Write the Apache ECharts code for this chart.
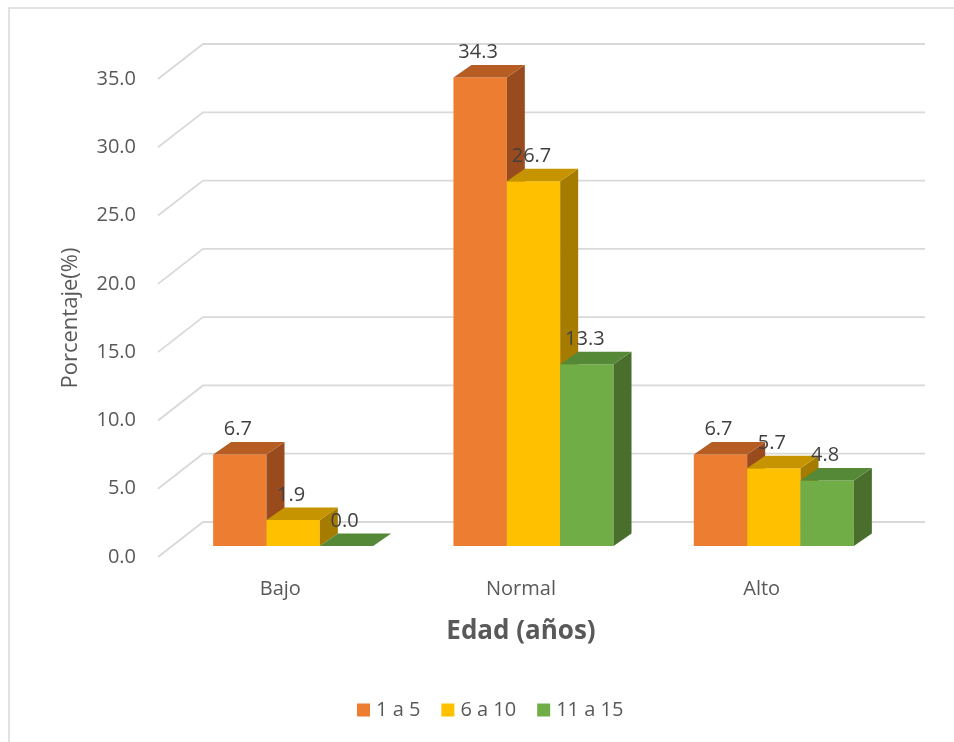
<!DOCTYPE html>
<html>
<head>
<meta charset="utf-8">
<title>Edad (años)</title>
<script src="https://cdn.jsdelivr.net/npm/echarts@6/dist/echarts.min.js"></script>
<style>
  html, body { margin: 0; padding: 0; background: #ffffff; }
  #chart { width: 954px; height: 742px; }
</style>
</head>
<body>
<div id="chart"></div>
<script>
// Categories and values (percent)
const categories = ['Bajo', 'Normal', 'Alto'];
const seriesNames = ['1 a 5', '6 a 10', '11 a 15'];
const values1a5 = [6.7, 34.3, 6.7];
const values6a10 = [1.9, 26.7, 5.7];
const values11a15 = [0.0, 13.3, 4.8];
const yTicks = [0, 5, 10, 15, 20, 25, 30, 35];

// Face colours for the 3D boxes: front, top, side
const palettes = [
  { front: '#ED7D31', top: '#B65D24', side: '#9A4B1D' },
  { front: '#FFC000', top: '#C69400', side: '#A67C00' },
  { front: '#70AD47', top: '#558937', side: '#4A6F2D' }
];

const FONT = '"Open Sans", "DejaVu Sans", sans-serif';
const DEPTH_X = 18, DEPTH_Y = -12.5;   // box depth offset
const WALL_X = 45, WALL_Y = -35;       // back wall offset from front floor edge
const BAR_RATIO = 0.222;               // bar width as share of a category band

const chart = echarts.init(document.getElementById('chart'), null, { renderer: 'canvas' });

function boxRenderer(seriesIdx) {
  const pal = palettes[seriesIdx];
  return function (params, api) {
    const cat = api.value(0);
    const v = api.value(1);
    const base = api.coord([cat, 0]);
    const topPt = api.coord([cat, v]);
    const band = api.size([1, 0])[0];
    const w = band * BAR_RATIO;
    const x0 = base[0] - 1.5 * w + seriesIdx * w;
    const x1 = x0 + w;
    const yb = base[1];
    const yt = topPt[1];
    const children = [];
    if (yb - yt > 0.5) {
      children.push({
        type: 'rect',
        shape: { x: x0, y: yt, width: w, height: yb - yt },
        style: { fill: pal.front }
      });
      children.push({
        type: 'polygon',
        shape: { points: [[x1, yt], [x1 + DEPTH_X, yt + DEPTH_Y], [x1 + DEPTH_X, yb + DEPTH_Y], [x1, yb]] },
        style: { fill: pal.side }
      });
    }
    children.push({
      type: 'polygon',
      shape: { points: [[x0, yt], [x0 + DEPTH_X, yt + DEPTH_Y], [x1 + DEPTH_X, yt + DEPTH_Y], [x1, yt]] },
      style: { fill: pal.top }
    });
    children.push({
      type: 'text',
      style: {
        x: x0 + w / 2 - 2,
        y: yt - 25,
        text: v.toFixed(1),
        align: 'center',
        verticalAlign: 'middle',
        fill: '#404040',
        font: '20px ' + FONT
      },
      z2: 10
    });
    return { type: 'group', children: children };
  };
}

// Back-wall gridlines with the diagonal floor edge on the left
function gridRenderer(params, api) {
  const v = api.value(0);
  const p = api.coord([0, v]);
  const cs = params.coordSys;
  const xl = cs.x - 2;
  const y = p[1];
  const backRight = cs.x + cs.width + 43;
  return {
    type: 'polyline',
    shape: { points: [[xl, y], [xl + WALL_X, y + WALL_Y], [backRight, y + WALL_Y]] },
    style: { stroke: '#D9D9D9', lineWidth: 1.8, fill: null }
  };
}

const valueSets = [values1a5, values6a10, values11a15];

const option = {
  backgroundColor: '#ffffff',
  animation: false,
  textStyle: { fontFamily: FONT },
  graphic: [{
    type: 'rect',
    shape: { x: 9, y: 8, width: 1000, height: 800 },
    style: { fill: null, stroke: '#D9D9D9', lineWidth: 1.5 },
    silent: true
  }],
  legend: {
    data: seriesNames,
    left: 352,
    top: 695,
    icon: 'rect',
    itemWidth: 13,
    itemHeight: 13,
    itemGap: 21,
    textStyle: { color: '#595959', fontSize: 20, fontFamily: FONT, padding: [0, 0, 0, 1] }
  },
  grid: [
    { left: 160, right: 72, top: 79, bottom: 185 },
    { left: 173, right: 60, top: 68, bottom: 196 }
  ],
  xAxis: [
    {
      type: 'category',
      gridIndex: 0,
      data: categories,
      axisLine: { show: false },
      axisTick: { show: false },
      axisLabel: { color: '#595959', fontSize: 20, fontFamily: FONT, margin: 22 },
      name: 'Edad (años)',
      nameLocation: 'middle',
      nameGap: 62,
      nameTextStyle: { color: '#595959', fontSize: 26, fontWeight: 'bold', fontFamily: FONT }
    },
    {
      type: 'category',
      gridIndex: 1,
      data: categories,
      show: false
    }
  ],
  yAxis: [
    {
      type: 'value',
      gridIndex: 0,
      min: 0,
      max: 35,
      interval: 5,
      axisLine: { show: false },
      axisTick: { show: false },
      splitLine: { show: false },
      axisLabel: {
        color: '#595959', fontSize: 20, fontFamily: FONT, margin: 24,
        formatter: function (v) { return v.toFixed(1); }
      },
      name: 'Porcentaje(%)',
      nameLocation: 'middle',
      nameGap: 78,
      nameTextStyle: { color: '#595959', fontSize: 22, fontFamily: FONT }
    },
    {
      type: 'value',
      gridIndex: 1,
      min: 0,
      max: 35,
      interval: 5,
      show: false
    }
  ],
  series: [
    {
      type: 'custom',
      name: 'wall',
      xAxisIndex: 0,
      yAxisIndex: 0,
      silent: true,
      z: 1,
      encode: { y: 0 },
      data: yTicks.map(function (t) { return [t]; }),
      renderItem: gridRenderer
    }
  ].concat(seriesNames.map(function (name, i) {
    return {
      type: 'custom',
      name: name,
      xAxisIndex: 1,
      yAxisIndex: 1,
      z: 5,
      itemStyle: { color: palettes[i].front },
      encode: { x: 0, y: 1 },
      data: valueSets[i].map(function (v, c) { return [c, v]; }),
      renderItem: boxRenderer(i)
    };
  }))
};

chart.setOption(option);
</script>
</body>
</html>
